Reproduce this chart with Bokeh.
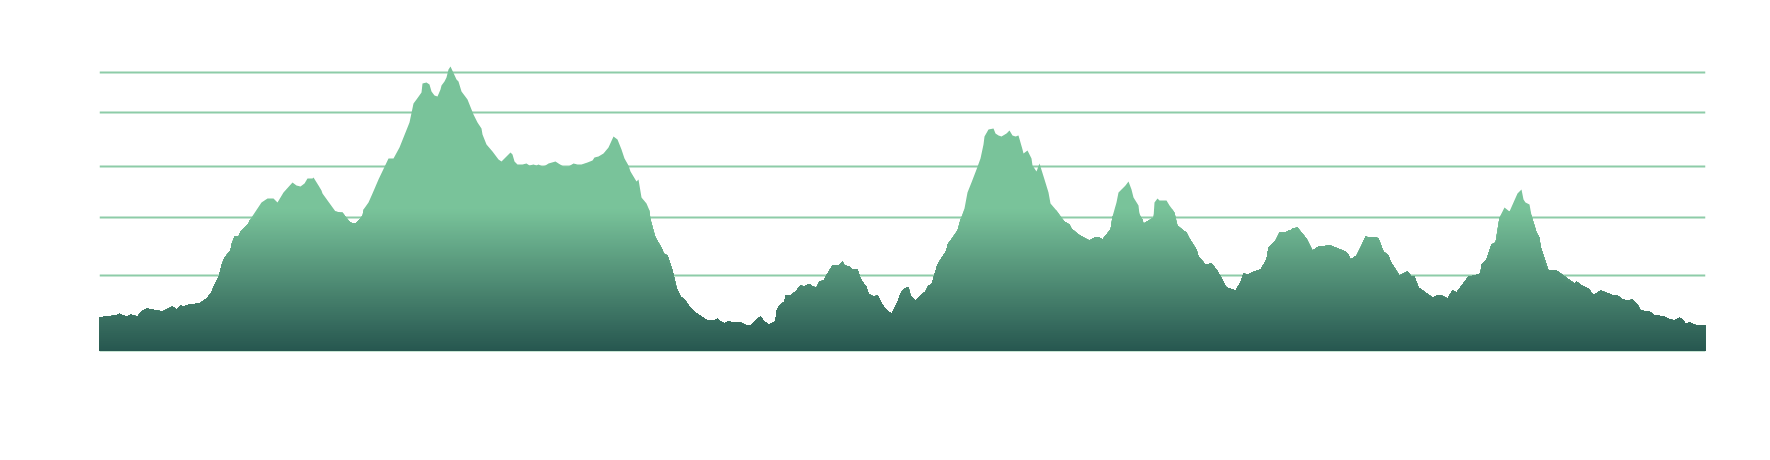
import numpy as np
from bokeh.plotting import figure
from bokeh.models import Range1d, Grid, FixedTicker
from bokeh.embed import file_html
from bokeh.resources import INLINE

# distance along the route (km) and elevation (m)
dist_km = [
    0.0, 0.6, 1.7, 2.0, 2.3, 2.8, 3.1, 3.4, 3.8, 4.2, 4.7, 6.3, 7.3, 7.7, 8.1, 8.4, 9.0, 10.0,
    10.7, 11.2, 11.5, 11.9, 12.2, 12.5, 13.1, 13.2, 13.5, 13.9, 14.1, 14.9, 15.0, 16.0, 16.2,
    16.8, 17.4, 17.8, 18.4, 19.3, 19.7, 20.1, 20.5, 20.8, 21.3, 21.4, 21.9, 22.2, 22.3, 23.6,
    24.1, 24.3, 25.0, 25.3, 25.6, 26.0, 26.3, 26.4, 26.9, 27.3, 27.6, 27.9, 28.9, 29.4, 30.0,
    30.4, 31.0, 31.4, 31.7, 32.2, 32.3, 32.7, 33.0, 33.2, 33.5, 33.8, 34.1, 34.2, 34.5, 34.7,
    34.9, 35.1, 35.7, 35.9, 36.2, 36.8, 37.0, 37.4, 37.8, 38.2, 38.3, 38.7, 39.3, 39.9, 40.2,
    40.6, 41.0, 41.1, 41.3, 41.5, 41.8, 42.3, 42.7, 43.0, 43.4, 43.7, 43.9, 44.3, 44.6, 44.9,
    45.6, 45.9, 46.4, 46.9, 47.4, 47.8, 48.2, 48.8, 49.3,
    49.5, 49.9, 50.4, 50.9, 51.4, 51.8, 52.2, 52.5, 52.9, 53.1, 53.4, 53.7, 53.9, 54.2, 54.7,
    55.0, 55.1, 55.6, 56.3, 56.4, 56.8, 57.3, 57.7, 58.1, 58.5, 59.0, 59.6, 60.2, 60.8, 61.5,
    61.8, 62.1, 62.5, 62.8, 63.5, 64.1, 64.7, 65.1, 65.6, 66.1, 66.5, 66.9, 67.2, 67.6, 67.7,
    68.0, 68.5, 68.6, 69.1, 69.6, 70.1, 70.5, 70.8, 71.1, 71.3, 71.7, 72.0, 72.4, 72.8, 73.3,
    73.9, 74.3, 74.5, 75.0, 75.3, 75.8, 76.1, 76.5, 76.7, 76.8, 77.0, 77.4, 77.8, 77.9, 78.1,
    78.5, 78.9, 79.2, 79.4, 79.9, 80.1, 80.4, 80.7, 80.9, 81.1, 81.6, 82.1, 82.6, 82.9, 83.2,
    83.5, 83.8, 84.3, 84.7, 84.8, 85.1, 85.8, 86.1, 86.5, 86.8, 87.2, 87.7, 88.1, 88.4, 88.5,
    88.9, 89.4, 89.6, 89.9, 90.2, 90.7, 91.0, 91.3, 91.6, 91.9, 92.3, 92.4, 92.8, 93.2, 93.3,
    93.7, 94.0, 94.5, 94.9, 95.1, 95.7, 96.5, 97.0, 97.2, 97.9, 98.6, 99.0, 99.5, 100.0, 100.3,
    100.6, 101.1, 101.3, 101.7, 101.9, 102.6, 102.9, 103.2, 103.4, 103.9, 104.0, 104.3, 104.4,
    104.9, 105.4, 105.5, 105.8, 106.0, 106.7, 107.0, 107.3,
    107.5, 107.8, 108.4, 108.7, 109.0, 109.7, 109.9, 110.6, 111.2, 111.7, 112.0, 112.7, 113.6,
    114.1, 114.4, 114.8, 115.5, 116.1, 116.7, 116.9, 117.2, 117.6, 118.0, 118.6, 118.9, 119.1,
    119.3, 119.8, 120.2, 120.7, 121.3, 121.9, 123.1, 124.6, 124.9, 125.1, 125.7, 126.2, 126.6,
    127.0, 127.7, 127.9, 128.4, 128.9, 129.1, 130.0, 130.8, 131.2, 131.5, 131.9, 133.3, 133.8,
    134.2, 134.8, 135.3, 135.7, 136.3, 136.9, 137.5, 138.1, 138.2, 138.7, 139.2, 139.6, 140.0,
    140.5, 141.0, 141.8, 142.2, 142.4, 142.6, 143.0, 143.2, 143.5, 143.7, 144.0, 144.1, 144.9,
    145.7, 147.5, 147.7, 148.2, 148.7, 149.0, 149.2, 149.5, 150.1, 150.9, 151.4, 151.8, 152.3,
    152.9, 153.3, 153.8, 154.1, 154.8, 155.0, 155.5, 155.7, 155.9, 156.2, 156.5, 156.8, 157.1,
    157.5, 158.0, 158.3, 158.6, 159.1, 159.4, 159.8, 160.6,
]
elev_m = [
    165, 170, 175, 185, 175, 170, 180, 175, 170, 195, 210, 195, 220, 205, 225, 220, 230, 235,
    260, 290, 330, 365, 425, 465, 500, 530, 570, 570, 595, 635, 650, 725, 740,
    760, 760, 740, 790, 840, 825, 820, 835, 860, 860, 865, 825, 800, 785, 695,
    690, 690, 645, 635, 635, 655, 675, 705, 740, 785, 820, 855, 960, 960, 1015,
    1065, 1140, 1235, 1255, 1290, 1335, 1340, 1330, 1295, 1275, 1270, 1305, 1325, 1345, 1365,
    1405, 1420, 1355, 1345, 1295, 1255, 1230, 1180, 1140, 1110, 1080, 1030, 995, 955, 945,
    965, 985, 990, 980, 945, 930, 930, 935, 925, 930, 925, 930, 920, 925, 935,
    945, 935, 920, 920, 935, 930, 930, 940, 950,
    965, 970, 985, 1015, 1070, 1055, 1005, 960, 925, 895, 870, 845, 855, 765, 735,
    700, 655, 565, 505, 485, 475, 400, 315, 270, 255, 220, 190, 170, 150, 150,
    160, 145, 135, 145, 140, 140, 125, 125, 150, 170, 145, 130, 135, 145, 200,
    225, 245, 275, 275, 295, 325, 320, 330, 330, 320, 315, 345, 350, 385, 425,
    425, 445, 425, 420, 405, 405, 360, 330, 320, 295, 280, 270, 275, 270, 245,
    215, 195, 185, 200, 255, 285, 305, 315, 315, 275, 250, 275, 295, 325, 330,
    380, 430, 470, 500, 530, 550, 600, 655, 710, 790, 840, 905, 960, 1030, 1070,
    1105, 1110, 1085, 1075, 1070, 1085, 1100, 1075, 1070, 1075, 1005, 985, 1000, 960, 925,
    895, 935, 855, 790, 735, 700, 645, 630, 610, 580, 560, 550, 565, 565, 555,
    575, 605, 670, 740, 790, 825, 845, 805, 765, 725, 680, 655, 635,
    650, 665, 740, 760, 750, 750, 725, 705,
    690, 625, 600, 590, 560, 505, 470, 430, 435, 405, 380, 315, 300,
    340, 385, 380, 395, 405, 455, 515, 530, 550, 590, 590, 600, 600,
    610, 615, 590, 560, 500, 520, 525, 495, 480, 455, 475, 525, 570,
    565, 565, 560, 495, 475, 445, 375, 395, 370, 370, 315, 265, 275,
    275, 260, 300, 290, 330, 370, 375, 385, 430, 455, 530, 540, 665,
    715, 695, 785, 805, 755, 740, 730, 675, 625, 590, 565, 520, 400,
    400, 335, 345, 325, 315, 305, 285, 280, 300, 285, 275, 275, 255,
    250, 255, 230, 200, 195, 195, 175, 175, 175, 170, 170, 160, 155,
    150, 165, 155, 135, 140, 130, 125, 125,
]
grid_levels_m = [0, 375, 665, 920, 1190, 1390]

x = np.array(dist_km, dtype=float)
e = np.array(elev_m, dtype=float)

p = figure(width=1750, height=440, output_backend="svg", toolbar_location=None,
           x_range=Range1d(0, 160.6), y_range=Range1d(-10, 1690),
           x_axis_location=None, y_axis_location=None,
           min_border_left=99, min_border_right=45, min_border_top=12, min_border_bottom=88)
p.outline_line_color = None
p.background_fill_color = "white"
p.border_fill_color = "white"

# hide the default grids, use a fixed set of elevation lines
for g in list(p.center):
    if isinstance(g, Grid):
        g.visible = False

grid = Grid(dimension=1, ticker=FixedTicker(ticks=grid_levels_m),
            grid_line_color="#8dcca8", grid_line_width=2)
p.add_layout(grid, "center")

top_rgb = np.array([121, 195, 154], dtype=float)
bot_rgb = np.array([39, 87, 80], dtype=float)
fade_top = 705.0
step = 10.0


def hexcol(rgb):
    r, g, b = [int(round(c)) for c in rgb]
    return "#%02x%02x%02x" % (r, g, b)


p.varea(x=x, y1=0, y2=e, fill_color=hexcol(top_rgb), fill_alpha=1.0)
for t in np.arange(fade_top, 0, -step):
    frac = max(0.0, (t - step / 2) / fade_top)
    col = bot_rgb + (top_rgb - bot_rgb) * frac
    p.varea(x=x, y1=0, y2=np.minimum(e, t), fill_color=hexcol(col), fill_alpha=1.0)

open("out.html", "w").write(file_html(p, INLINE))
